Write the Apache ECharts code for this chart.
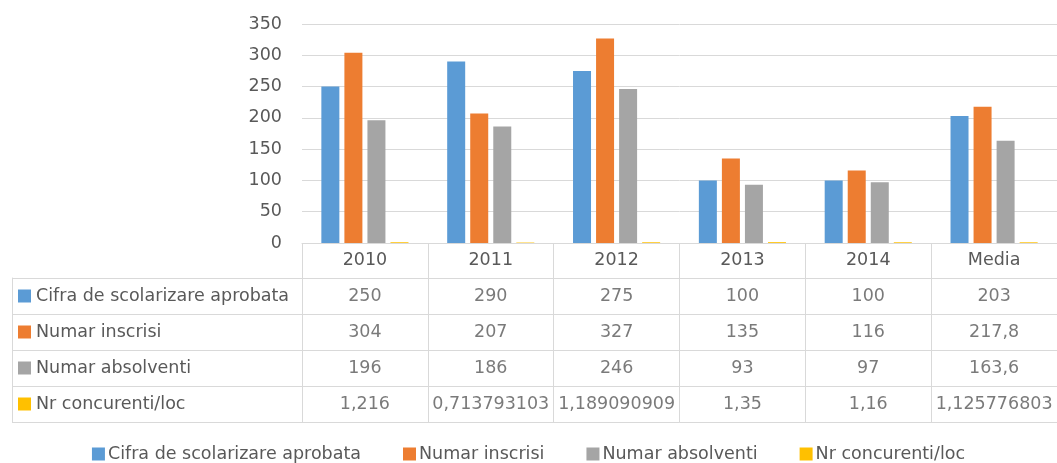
<!DOCTYPE html>
<html>
<head>
<meta charset="utf-8">
<style>html,body{margin:0;padding:0;background:#fff}#c{width:1057px;height:463px}</style>
<script src="https://cdn.jsdelivr.net/npm/echarts@6/dist/echarts.min.js"></script>
</head>
<body>
<div id="c"></div>
<script>
var categories = ['2010', '2011', '2012', '2013', '2014', 'Media'];
var seriesNames = ['Cifra de scolarizare aprobata', 'Numar inscrisi', 'Numar absolventi', 'Nr concurenti/loc'];
var cifra = [250, 290, 275, 100, 100, 203];
var inscrisi = [304, 207, 327, 135, 116, 217.8];
var absolventi = [196, 186, 246, 93, 97, 163.6];
var concurenti = [1.216, 0.713793103, 1.189090909, 1.35, 1.16, 1.125776803];
var yTicks = [0, 50, 100, 150, 200, 250, 300, 350];

var colors = ['#5B9BD5', '#ED7D31', '#A5A5A5', '#FFC000'];
var allSeries = [cifra, inscrisi, absolventi, concurenti];
var FONT = 'DejaVu Sans';
var FS = 17.5;
var TXT = '#595959';
var LINE = '#D9D9D9';

function fmt(v) { return String(v).replace('.', ','); }

var cellData = [];
allSeries.forEach(function (arr, r) {
  arr.forEach(function (v, c) { cellData.push({ value: [c, r], label: { formatter: fmt(v) } }); });
});

var rich = { t: { fontFamily: FONT, fontSize: FS, color: TXT, padding: [0, 0, 0, 5] } };
colors.forEach(function (col, i) { rich['m' + i] = { width: 13, height: 13, backgroundColor: col }; });

var chart = echarts.init(document.getElementById('c'));
var barSeries = seriesNames.map(function (name, i) {
  return {
    name: name, type: 'bar', xAxisIndex: 0, yAxisIndex: 0,
    data: allSeries[i], barWidth: 18, barGap: '28%',
    itemStyle: { color: colors[i] }
  };
});

chart.setOption({
  animation: false,
  textStyle: { fontFamily: FONT },
  grid: [
    { left: 302, top: 24, width: 762, height: 219 },
    { left: 302, top: 278, width: 762, height: 144 }
  ],
  legend: {
    data: seriesNames, left: 'center', top: 445, icon: 'rect',
    itemWidth: 13, itemHeight: 13, itemGap: 42, padding: 0,
    textStyle: { fontFamily: FONT, fontSize: FS, color: TXT, padding: [0, 0, 0, -2] }
  },
  xAxis: [
    {
      type: 'category', gridIndex: 0, data: categories, position: 'bottom',
      axisLine: { show: true, lineStyle: { color: LINE } },
      axisTick: { show: true, alignWithLabel: false, length: 35, lineStyle: { color: LINE } },
      axisLabel: { fontFamily: FONT, fontSize: FS, color: TXT, margin: 17.5, verticalAlign: 'middle' }
    },
    {
      type: 'category', gridIndex: 1, data: categories, position: 'bottom',
      axisLine: { show: true, lineStyle: { color: LINE } },
      axisTick: { show: false }, axisLabel: { show: false },
      splitLine: { show: true, interval: 0, lineStyle: { color: LINE } }
    },
    {
      type: 'category', gridIndex: 1, data: categories, position: 'top',
      axisLine: { show: true, lineStyle: { color: LINE } },
      axisTick: { show: false }, axisLabel: { show: false }
    }
  ],
  yAxis: [
    {
      type: 'value', gridIndex: 0, min: 0, max: 350, interval: 50,
      axisLine: { show: false }, axisTick: { show: false },
      axisLabel: { fontFamily: FONT, fontSize: FS, color: TXT, margin: 20,
        formatter: function (v) { return yTicks.indexOf(v) >= 0 ? String(v) : ''; } },
      splitLine: { show: true, lineStyle: { color: LINE } }
    },
    {
      type: 'category', gridIndex: 1, data: seriesNames, inverse: true, position: 'left',
      axisLine: { show: true, lineStyle: { color: LINE } },
      axisTick: { show: true, alignWithLabel: false, length: 290, lineStyle: { color: LINE } },
      splitLine: { show: true, lineStyle: { color: LINE } },
      axisLabel: {
        align: 'left', margin: 290, padding: [0, 0, 0, 6], rich: rich,
        formatter: function (v, i) { return '{m' + i + '|}{t|' + v + '}'; }
      }
    },
    {
      type: 'category', gridIndex: 1, data: seriesNames, inverse: true, position: 'left', offset: 290,
      axisLine: { show: true, lineStyle: { color: LINE } },
      axisTick: { show: false }, axisLabel: { show: false }
    }
  ],
  series: barSeries.concat([{
    type: 'scatter', xAxisIndex: 1, yAxisIndex: 1, data: cellData,
    symbolSize: 1, itemStyle: { color: 'rgba(0,0,0,0)' }, silent: true,
    label: { show: true, position: 'inside', fontFamily: FONT, fontSize: FS, color: TXT }
  }])
});
</script>
</body>
</html>
